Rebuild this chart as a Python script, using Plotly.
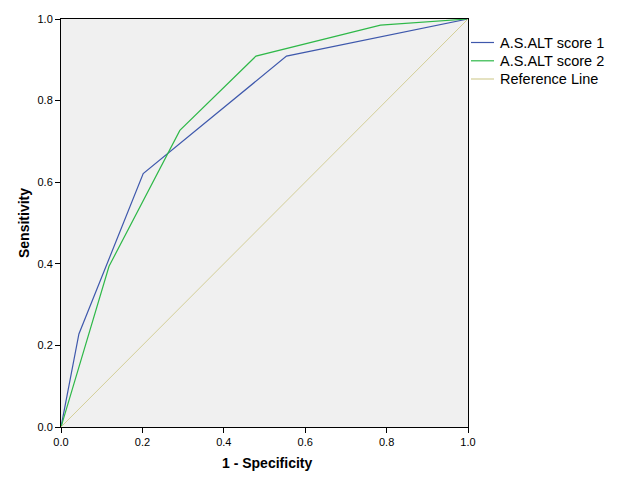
import plotly.graph_objects as go

x1 = [0.0, 0.044, 0.202, 0.554, 1.0]
y1 = [0.0, 0.228, 0.621, 0.909, 1.0]
x2 = [0.0, 0.118, 0.292, 0.479, 0.785, 1.0]
y2 = [0.0, 0.394, 0.727, 0.909, 0.985, 1.0]
xr = [0.0, 1.0]
yr = [0.0, 1.0]
names = ["A.S.ALT score 1", "A.S.ALT score 2", "Reference Line"]
colors = ["#3E58AC", "#2EB848", "#D3CE97"]
tickvals = [0.0, 0.2, 0.4, 0.6, 0.8, 1.0]
ticktext = ["0.0", "0.2", "0.4", "0.6", "0.8", "1.0"]
xtitle = "1 - Specificity"
ytitle = "Sensitivity"

FONT = "Liberation Sans, Arial"

fig = go.Figure()
fig.add_trace(go.Scatter(x=x1, y=y1, mode="lines", name=names[0],
                         line=dict(color=colors[0], width=1.2)))
fig.add_trace(go.Scatter(x=x2, y=y2, mode="lines", name=names[1],
                         line=dict(color=colors[1], width=1.2)))
fig.add_trace(go.Scatter(x=xr, y=yr, mode="lines", name=names[2],
                         line=dict(color=colors[2], width=1)))

axis_common = dict(range=[0, 1], tickvals=tickvals, ticktext=ticktext,
                   ticks="outside", ticklen=5, tickcolor="black", tickwidth=1,
                   showline=True, linecolor="black", linewidth=1, mirror=True,
                   showgrid=False, zeroline=False, automargin=False,
                   tickfont=dict(family=FONT, size=11, color="black"))

# Figure is placed by the page at an 8px offset, so size it to fill the window
W, H = 618, 493
ml, mt, mr, mb = 53, 11, 158, 74
plot_w = W - ml - mr
plot_h = H - mt - mb

shapes = []
annotations = []
# manual legend (SPSS style: short line + label)
leg_y_px = [42.5, 60.8, 79.0]   # from top of window
for i, name in enumerate(names):
    ypx = leg_y_px[i] - 8 - mt
    yp = 1 - ypx / plot_h
    shapes.append(dict(type="line", xref="paper", yref="paper",
                       x0=1 + 3 / plot_w, x1=1 + 26 / plot_w, y0=yp, y1=yp,
                       line=dict(color=colors[i], width=1.2)))
    annotations.append(dict(xref="paper", yref="paper", x=1 + 30 / plot_w, y=yp,
                            xanchor="left", yanchor="middle", showarrow=False,
                            text=name, font=dict(family=FONT, size=14.5, color="black")))

# axis titles
annotations.append(dict(xref="paper", yref="paper", x=0.505, y=0, yshift=-36,
                        xanchor="center", yanchor="middle", showarrow=False,
                        text="<b>%s</b>" % xtitle,
                        font=dict(family=FONT, size=14, color="black")))
annotations.append(dict(xref="paper", yref="paper", x=0, y=0.5, xshift=-37,
                        xanchor="center", yanchor="middle", showarrow=False,
                        textangle=-90, text="<b>%s</b>" % ytitle,
                        font=dict(family=FONT, size=14, color="black")))

fig.update_layout(
    width=W, height=H,
    margin=dict(l=ml, r=mr, t=mt, b=mb, autoexpand=False),
    paper_bgcolor="white", plot_bgcolor="#F0F0F0",
    xaxis=axis_common,
    yaxis=axis_common,
    showlegend=False,
    shapes=shapes,
    annotations=annotations,
)

fig.write_html("out.html")
